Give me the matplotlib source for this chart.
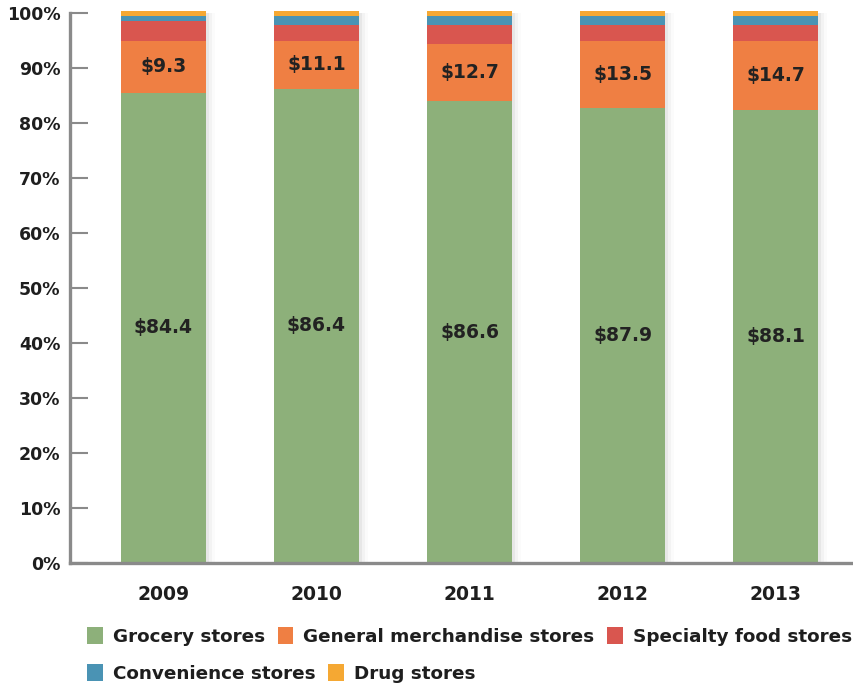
import matplotlib
matplotlib.use('Agg')
import matplotlib.pyplot as plt
from matplotlib.patches import Patch
import numpy as np

years = ['2009', '2010', '2011', '2012', '2013']

# share of sales (%)
grocery = [85.5, 86.2, 84.0, 82.7, 82.4]
general = [9.4, 8.7, 10.4, 12.2, 12.5]
specialty = [3.6, 2.9, 3.4, 2.9, 2.9]
convenience = [0.9, 1.6, 1.6, 1.6, 1.6]
drug = [0.9, 0.9, 0.9, 0.9, 0.9]

# dollar labels printed on the bars
grocery_sales = [84.4, 86.4, 86.6, 87.9, 88.1]
general_sales = [9.3, 11.1, 12.7, 13.5, 14.7]

names = ['Grocery stores', 'General merchandise stores', 'Specialty food stores',
         'Convenience stores', 'Drug stores']
colors = ['#8db07a', '#ef7f43', '#d9564f', '#4a93b4', '#f5a833']
series = [grocery, general, specialty, convenience, drug]

plt.rcParams['font.family'] = ['DejaVu Sans']
plt.rcParams['font.weight'] = 'bold'

fig = plt.figure(figsize=(8.54, 6.85), dpi=100)
ax = fig.add_axes([0.082, 0.178, 0.916, 0.803])

x = np.arange(len(years))
width = 0.555
gray = '#8a8a8a'

# soft shadow on the right of each bar
for k, a in zip([0.02, 0.04, 0.06], [0.06, 0.04, 0.02]):
    ax.bar(x + k, [100] * len(x), width, color='#404040', alpha=a, zorder=1, linewidth=0)

bottom = np.zeros(len(years))
for vals, c in zip(series, colors):
    ax.bar(x, vals, width, bottom=bottom, color=c, zorder=2, linewidth=0, clip_on=False)
    bottom += np.array(vals)

g = np.array(grocery)
o = np.array(general)
for i in range(len(years)):
    ax.text(x[i], g[i] / 2, '$' + str(grocery_sales[i]), ha='center', va='center',
            fontsize=13.5, fontweight='bold', color='#222222', zorder=3)
    ax.text(x[i], g[i] + o[i] / 2, '$' + str(general_sales[i]), ha='center', va='center',
            fontsize=13.5, fontweight='bold', color='#222222', zorder=3)

ax.set_xlim(-0.61, 4.5)
ax.set_ylim(0, 100)
ax.set_yticks(np.arange(0, 101, 10))
ax.set_yticklabels([str(v) + '%' for v in range(0, 101, 10)])
ax.set_xticks(x)
ax.set_xticklabels(years)

for s in ['top', 'right']:
    ax.spines[s].set_visible(False)
for s in ['left', 'bottom']:
    ax.spines[s].set_color(gray)
    ax.spines[s].set_linewidth(2.4)
    ax.spines[s].set_zorder(4)

ax.tick_params(axis='y', direction='in', length=13, width=1.5, color=gray, pad=7,
               labelsize=12.5, labelcolor='#1e1e1e')
ax.tick_params(axis='x', length=0, pad=16, labelsize=13.5, labelcolor='#1e1e1e')
for lab in ax.get_xticklabels() + ax.get_yticklabels():
    lab.set_fontweight('bold')

handles = [Patch(facecolor=c, edgecolor='none') for c in colors]
leg_kw = dict(frameon=False, handlelength=0.85, handleheight=1.1, handletextpad=0.55,
              columnspacing=0.7, borderaxespad=0, borderpad=0,
              prop={'size': 13.2, 'weight': 'bold'}, labelcolor='#1e1e1e')
leg1 = fig.legend(handles[:3], names[:3], ncol=3, loc='center left',
                  bbox_to_anchor=(0.102, 0.071), **leg_kw)
leg2 = fig.legend(handles[3:], names[3:], ncol=2, loc='center left',
                  bbox_to_anchor=(0.102, 0.017), **leg_kw)

fig.savefig('out.png', dpi=100)
